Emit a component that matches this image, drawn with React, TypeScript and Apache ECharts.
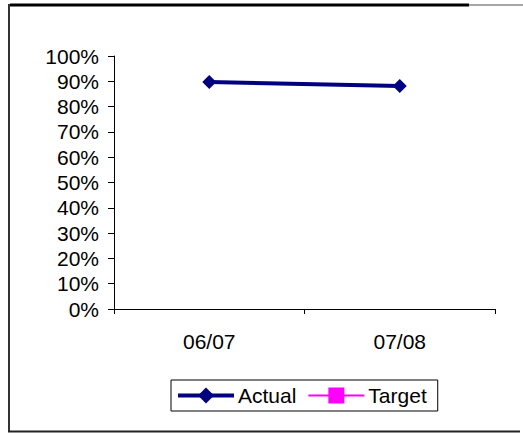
import React, { useEffect, useRef } from "react";
import * as echarts from "echarts";

const categories = ["06/07", "07/08"];
const actualValues = [0.897, 0.881];
const targetValues: (number | null)[] = [null, null];
const yTicks = [0, 0.1, 0.2, 0.3, 0.4, 0.5, 0.6, 0.7, 0.8, 0.9, 1];

const FONT = "'Liberation Sans', Arial, sans-serif";

export default function App() {
  const ref = useRef<HTMLDivElement>(null);
  useEffect(() => {
    if (!ref.current) return;
    const chart = echarts.init(ref.current, undefined, { renderer: "svg" });
    chart.setOption({
      animation: false,
      backgroundColor: "#fff",
      textStyle: { fontFamily: FONT, color: "#000" },
      grid: { left: 114, right: 28, top: 56, bottom: 124, containLabel: false },
      xAxis: {
        type: "category",
        data: categories,
        boundaryGap: true,
        axisLine: { lineStyle: { color: "#000", width: 1 } },
        axisTick: { show: true, length: 5, lineStyle: { color: "#000" } },
        axisLabel: { color: "#000", fontSize: 21, fontFamily: FONT, margin: 22 },
        splitLine: { show: false },
      },
      yAxis: {
        type: "value",
        min: yTicks[0],
        max: yTicks[yTicks.length - 1],
        interval: 0.1,
        axisLine: { show: true, lineStyle: { color: "#000", width: 1 } },
        axisTick: { show: true, length: 6, lineStyle: { color: "#000" } },
        axisLabel: {
          color: "#000",
          fontSize: 21,
          fontFamily: FONT,
          margin: 15,
          formatter: (v: number) => Math.round(v * 100) + "%",
        },
        splitLine: { show: false },
      },
      legend: {
        left: 171,
        top: 380,
        padding: [5, 11, 5, 5],
        borderColor: "#000",
        borderWidth: 1,
        itemWidth: 56,
        itemHeight: 20,
        itemGap: 11,
        textStyle: { fontSize: 21, fontFamily: FONT, color: "#000", padding: [0, 0, 0, -1] },
        data: [
          { name: "Actual", lineStyle: { width: 4, color: "#000080" } },
          { name: "Target", lineStyle: { width: 2, color: "#FF00FF" } },
        ],
      },
      series: [
        {
          name: "Actual",
          type: "line",
          data: actualValues,
          symbol: "diamond",
          symbolSize: 14,
          lineStyle: { color: "#000080", width: 4 },
          itemStyle: { color: "#000080" },
        },
        {
          name: "Target",
          type: "line",
          data: targetValues,
          symbol: "rect",
          symbolSize: 12,
          lineStyle: { color: "#FF00FF", width: 2 },
          itemStyle: { color: "#FF00FF" },
        },
      ],
      graphic: [
        { type: "line", shape: { x1: 10, y1: 5, x2: 469, y2: 5 }, style: { stroke: "#000", lineWidth: 3 } },
        { type: "line", shape: { x1: 469, y1: 5, x2: 523, y2: 5 }, style: { stroke: "#888", lineWidth: 1.5 } },
        { type: "line", shape: { x1: 9, y1: 4, x2: 9, y2: 432 }, style: { stroke: "#333", lineWidth: 2 } },
        { type: "line", shape: { x1: 8, y1: 431.5, x2: 520, y2: 431.5 }, style: { stroke: "#222", lineWidth: 2 } },
      ],
    });
    return () => chart.dispose();
  }, []);
  return <div ref={ref} style={{ width: 523, height: 433, position: "absolute", left: 0, top: 0 }} />;
}
